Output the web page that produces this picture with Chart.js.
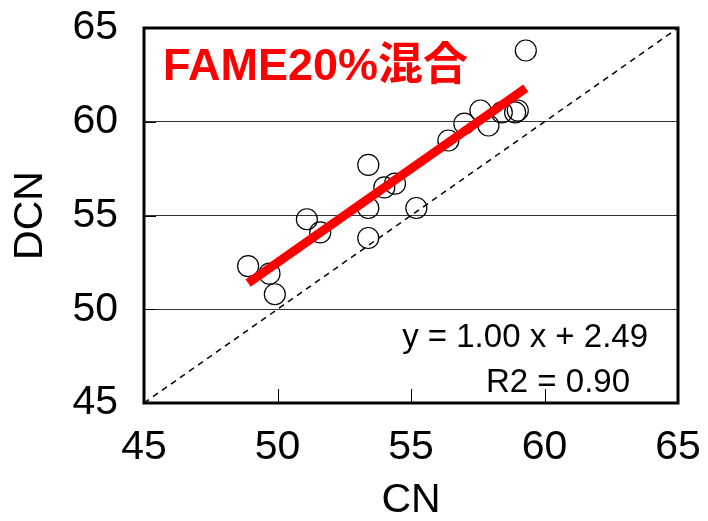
<!DOCTYPE html>
<html>
<head>
<meta charset="utf-8">
<script src="https://cdn.jsdelivr.net/npm/chart.js@4/dist/chart.umd.min.js"></script>
<style>
  body{margin:0;background:#fff;}
</style>
</head>
<body>
<canvas id="c" width="708" height="521"></canvas>
<script>
// FAME20% blend: CN vs DCN
const cn  = [48.9,49.7,49.9,51.1,51.6,53.4,53.4,53.4,54.0,54.4,55.2,56.4,57.0,57.6,57.9,58.4,58.9,59.0,59.3];
const dcn = [52.3,51.9,50.8,54.8,54.1,57.7,55.4,53.8,56.5,56.7,55.4,59.0,59.9,60.6,59.8,60.5,60.5,60.6,63.8];
const fitSlope = 1.00, fitIntercept = 2.49, r2 = 0.90;
const axisMin = 45, axisMax = 65, axisStep = 5;
const title = "FAME20%混合";

const FONT = "'Liberation Sans', 'Noto Sans CJK JP', sans-serif";
const pts = cn.map((x,i)=>({x:x, y:dcn[i]}));
const xLo = Math.min(...cn), xHi = Math.max(...cn);
const fitPts = [{x:xLo, y:fitSlope*xLo+fitIntercept},{x:xHi, y:fitSlope*xHi+fitIntercept}];
const diag = [{x:axisMin,y:axisMin},{x:axisMax,y:axisMax}];

const decor = {
  id:"decor",
  afterDraw(chart){
    const {ctx, chartArea:a, scales:{x,y}} = chart;
    ctx.save();
    // inward ticks
    ctx.strokeStyle="#000"; ctx.lineWidth=1;
    for(let v=axisMin+axisStep; v<axisMax; v+=axisStep){
      const px = Math.round(x.getPixelForValue(v))+0.5;
      ctx.beginPath(); ctx.moveTo(px,a.bottom); ctx.lineTo(px,a.bottom-14); ctx.stroke();
      const py = Math.round(y.getPixelForValue(v))+0.5;
      ctx.beginPath(); ctx.moveTo(a.left,py); ctx.lineTo(a.left+12,py); ctx.stroke();
    }
    // frame
    ctx.lineWidth=3;
    ctx.strokeRect(a.left,a.top,a.right-a.left,a.bottom-a.top);
    // title in plot
    ctx.fillStyle="#ff0000";
    ctx.font="bold 45px "+FONT;
    ctx.textAlign="left"; ctx.textBaseline="alphabetic";
    ctx.fillText(title, a.left+19, a.top+52);
    // equation
    ctx.fillStyle="#000";
    ctx.font="33px "+FONT;
    ctx.textAlign="right";
    ctx.fillText("y = "+fitSlope.toFixed(2)+" x + "+fitIntercept.toFixed(2), a.right-30, a.bottom-56);
    ctx.fillText("R2 = "+r2.toFixed(2), a.right-48, a.bottom-11);
    ctx.restore();
  }
};

new Chart(document.getElementById("c"),{
  type:"scatter",
  data:{datasets:[
    {type:"line", data:fitPts, borderColor:"#ff0000", borderWidth:9, pointRadius:0, borderCapStyle:"butt"},
    {data:pts, pointRadius:10.5, pointBorderColor:"#000", pointBorderWidth:1.2, pointBackgroundColor:"rgba(0,0,0,0)"},
    {type:"line", data:diag, borderColor:"#000", borderWidth:1.5, borderDash:[6,5], pointRadius:0}
  ]},
  options:{
    responsive:false, animation:false,
    layout:{padding:{top:28,right:30,left:0,bottom:0}},
    plugins:{legend:{display:false}, tooltip:{enabled:false}},
    scales:{
      x:{min:axisMin, max:axisMax,
        ticks:{stepSize:axisStep, color:"#000", padding:20, maxRotation:0, font:{family:FONT,size:41}},
        grid:{display:false, drawTicks:false},
        border:{display:false},
        title:{display:true, text:"CN", color:"#000", font:{family:FONT,size:41}, padding:{top:0,bottom:-4}},
        afterFit(s){ s.height = 118; s.paddingLeft = 0; s.paddingRight = 0; }
      },
      y:{min:axisMin, max:axisMax,
        ticks:{stepSize:axisStep, color:"#000", padding:26, font:{family:FONT,size:41}},
        grid:{color:"#333", lineWidth:1, drawTicks:false},
        border:{display:false},
        title:{display:true, text:"DCN", color:"#000", font:{family:FONT,size:41}, padding:{top:6,bottom:0}},
        afterFit(s){ s.width = 144; s.paddingTop = 0; s.paddingBottom = 0; }
      }
    }
  },
  plugins:[decor]
});
</script>
</body>
</html>
